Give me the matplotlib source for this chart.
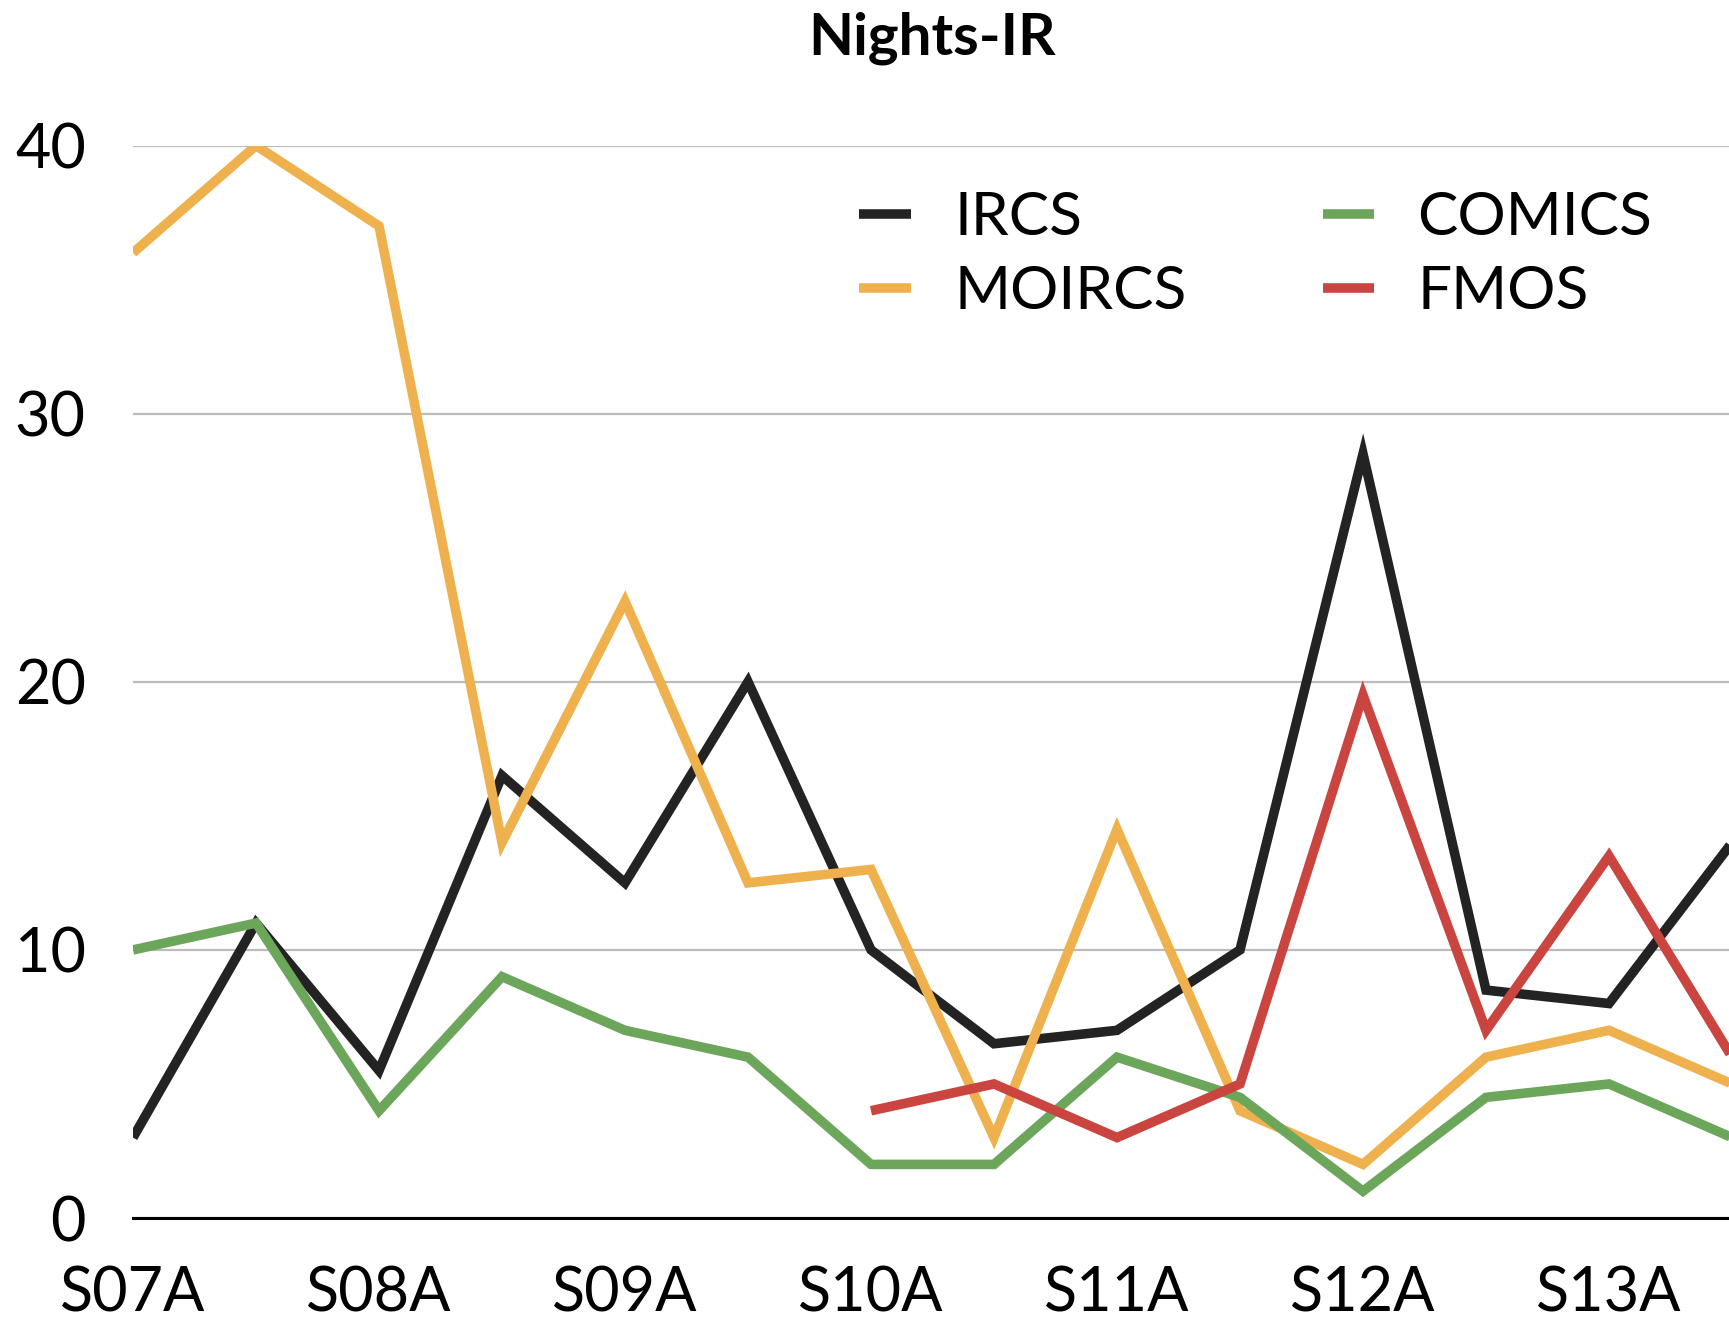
import matplotlib
matplotlib.use("Agg")
import matplotlib.pyplot as plt

semesters = ["S07A", "S07B", "S08A", "S08B", "S09A", "S09B", "S10A",
             "S10B", "S11A", "S11B", "S12A", "S12B", "S13A", "S13B"]
ircs   = [3, 11, 5.5, 16.5, 12.5, 20, 10, 6.5, 7, 10, 28.5, 8.5, 8, 14]
moircs = [36, 40, 37, 14, 23, 12.5, 13, 3, 14.5, 4, 2, 6, 7, 5]
comics = [10, 11, 4, 9, 7, 6, 2, 2, 6, 4.5, 1, 4.5, 5, 3]
fmos   = [None, None, None, None, None, None, 4, 5, 3, 5, 19.5, 7, 13.5, 6]
yticks = [0, 10, 20, 30, 40]

plt.rcParams['font.family'] = ['Lato', 'DejaVu Sans']

W, H = 1729, 1321
fig = plt.figure(figsize=(W / 100, H / 100), dpi=100)
left = 133 / W
bottom = 1 - 1218 / H
top = 1 - 145.6 / H
width = (1732 - 133) / W
ax = fig.add_axes([left, bottom, width, top - bottom])

x = list(range(len(semesters)))
series = [("IRCS", ircs, "#232323"), ("MOIRCS", moircs, "#EEB14D"),
          ("COMICS", comics, "#6CA65A"), ("FMOS", fmos, "#CA4440")]
handles = {}
for name, vals, col in series:
    xs = [xi for xi, v in zip(x, vals) if v is not None]
    ys = [v for v in vals if v is not None]
    h, = ax.plot(xs, ys, color=col, lw=6.9, solid_joinstyle='miter',
                 solid_capstyle='butt', label=name)
    handles[name] = h

ax.set_xlim(0, len(semesters) - 1)
ax.set_ylim(0, 40)
ax.set_yticks(yticks)
ax.set_yticklabels([str(t) for t in yticks])
ax.set_xticks(x[::2])
ax.set_xticklabels(semesters[::2])
ax.tick_params(axis='both', length=0, labelsize=44)
ax.tick_params(axis='y', pad=34)
ax.tick_params(axis='x', pad=34)
ax.yaxis.grid(True, color="#BBBBBB", lw=1.6)
ax.set_axisbelow(True)
for s in ["left", "right", "top"]:
    ax.spines[s].set_visible(False)
ax.spines["bottom"].set_linewidth(2.2)
ax.spines["bottom"].set_color("black")

fig.text((133 + 1732) / 2 / W, 1 - 38 / H, "Nights-IR", ha='center', va='center',
         fontsize=42, fontweight='bold')

order = ["IRCS", "MOIRCS", "COMICS", "FMOS"]
ax.legend([handles[n] for n in order], order, ncol=2, frameon=False,
          loc='upper left', bbox_to_anchor=(805 / W, 1 - 137 / H),
          bbox_transform=fig.transFigure, fontsize=43.5, handlelength=0.85,
          handletextpad=0.72, columnspacing=2.25, labelspacing=0.32)

fig.savefig("out.png", dpi=100)
